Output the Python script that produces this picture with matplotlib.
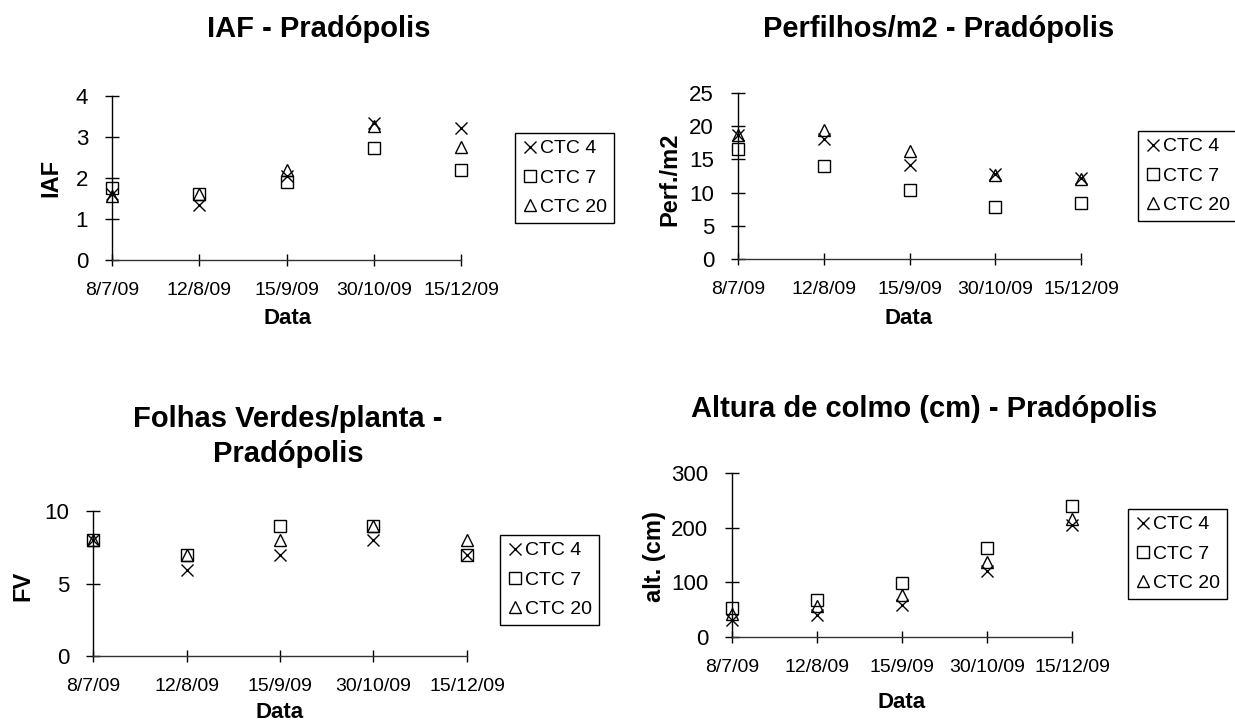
import matplotlib
matplotlib.use("Agg")
import matplotlib.pyplot as plt

plt.rcParams["font.family"] = ["Liberation Sans", "DejaVu Sans"]

W, H = 1235, 723

datas = ["8/7/09", "12/8/09", "15/9/09", "30/10/09", "15/12/09"]
series_names = ["CTC 4", "CTC 7", "CTC 20"]

# IAF
iaf_ctc4 = [1.6, 1.35, 2.05, 3.35, 3.22]
iaf_ctc7 = [1.75, 1.6, 1.9, 2.72, 2.2]
iaf_ctc20 = [1.55, 1.6, 2.2, 3.28, 2.76]

# perfilhos/m2
perf_ctc4 = [18.7, 18.0, 14.2, 12.8, 12.2]
perf_ctc7 = [16.6, 14.0, 10.4, 7.8, 8.5]
perf_ctc20 = [18.6, 19.5, 16.2, 12.7, 12.1]

# folhas verdes
fv_ctc4 = [8.0, 5.9, 7.0, 8.0, 7.0]
fv_ctc7 = [8.0, 7.0, 9.0, 9.0, 7.0]
fv_ctc20 = [8.0, 7.0, 8.0, 9.0, 8.0]

# altura de colmo
alt_ctc4 = [32, 41, 59, 121, 204]
alt_ctc7 = [53, 68, 98, 163, 240]
alt_ctc20 = [42, 56, 77, 138, 215]

markers = ["x", "s", "^"]


def fx(px):
    return px / W


def fy(py):
    return 1 - py / H


def make_panel(fig, box, series, yticks, ylabel, title, title_xy, ylabel_xy,
               xlabel_xy, legend_xy, title_ls=1.2):
    x0, y0, x1, y1 = box
    ax = fig.add_axes([fx(x0), fy(y1), fx(x1 - x0), (y1 - y0) / H])
    xs = list(range(len(datas)))
    for vals, m, name in zip(series, markers, series_names):
        ax.plot(xs, vals, linestyle="none", marker=m, ms=9, mew=1,
                mfc="none", mec="black", label=name, clip_on=False, zorder=3)
    ax.set_xlim(0, len(datas) - 1)
    ax.set_ylim(yticks[0], yticks[-1])
    ax.set_xticks(xs)
    ax.set_xticklabels(datas)
    ax.set_yticks(yticks)
    for s in ["top", "right"]:
        ax.spines[s].set_visible(False)
    ax.spines["left"].set_linewidth(1)
    ax.spines["bottom"].set_linewidth(1)
    ax.spines["bottom"].set_color("#333333")
    ax.tick_params(axis="x", direction="inout", length=9, width=1, pad=11.5,
                   labelsize=14)
    ax.tick_params(axis="y", direction="inout", length=10.5, width=1, pad=12,
                   labelsize=16)

    fig.text(fx(title_xy[0]), fy(title_xy[1]), title, ha="center",
             va="baseline", fontsize=21, fontweight="bold",
             linespacing=title_ls)
    fig.text(fx(ylabel_xy[0]), fy(ylabel_xy[1]), ylabel, ha="center",
             va="center", rotation=90, fontsize=17, fontweight="bold")
    fig.text(fx(xlabel_xy[0]), fy(xlabel_xy[1]), "Data", ha="center",
             va="center", fontsize=16, fontweight="bold")

    leg = fig.legend(*ax.get_legend_handles_labels(), loc="upper left",
                     bbox_to_anchor=(fx(legend_xy[0]), fy(legend_xy[1])),
                     fontsize=14, numpoints=1, fancybox=False,
                     edgecolor="black", framealpha=1, borderaxespad=0,
                     borderpad=0.35, handlelength=0.8, handletextpad=0.15,
                     labelspacing=0.6)
    leg.get_frame().set_linewidth(1)
    return ax


fig = plt.figure(figsize=(W / 100, H / 100), dpi=100)

make_panel(fig, (112, 96, 461, 260), [iaf_ctc4, iaf_ctc7, iaf_ctc20],
           [0, 1, 2, 3, 4], "IAF", "IAF - Pradópolis",
           (319, 37), (51, 178), (288, 319), (515, 133))

make_panel(fig, (738, 93, 1081, 259), [perf_ctc4, perf_ctc7, perf_ctc20],
           [0, 5, 10, 15, 20, 25], "Perf./m2", "Perfilhos/m2 - Pradópolis",
           (939, 37), (670, 179), (909, 319), (1138, 131))

make_panel(fig, (93, 511, 467, 656), [fv_ctc4, fv_ctc7, fv_ctc20],
           [0, 5, 10], "FV", "Folhas Verdes/planta -\nPradópolis",
           (288, 462), (23, 586), (280, 713), (500, 535), title_ls=1.3)

make_panel(fig, (732, 473, 1072, 637), [alt_ctc4, alt_ctc7, alt_ctc20],
           [0, 100, 200, 300], "alt. (cm)",
           "Altura de colmo (cm) - Pradópolis",
           (924, 417), (655, 557), (902, 703), (1128, 509))

fig.savefig("out.png", dpi=100)
plt.close(fig)
